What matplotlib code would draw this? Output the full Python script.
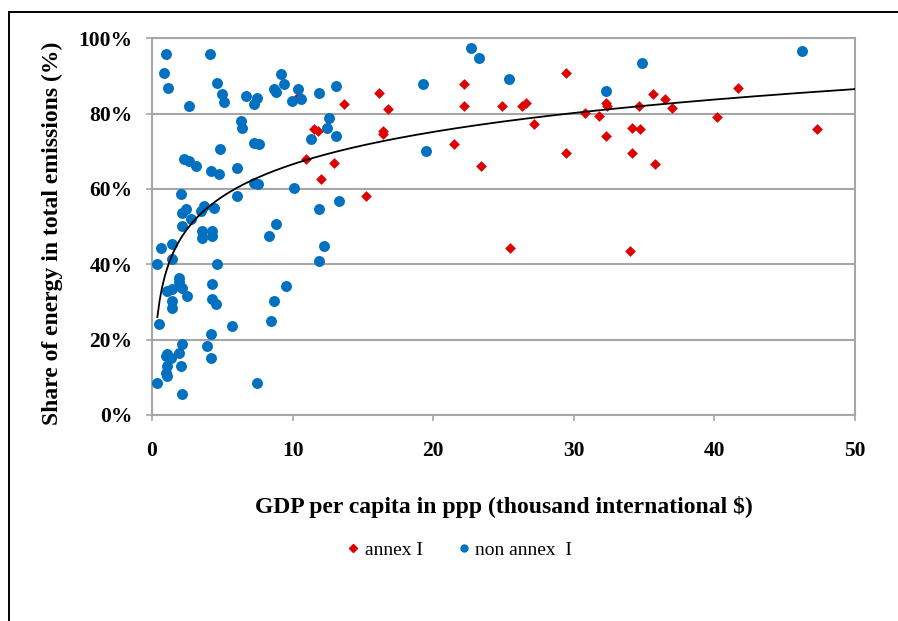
import numpy as np
import matplotlib
matplotlib.use("Agg")
import matplotlib.pyplot as plt
from matplotlib.patches import Rectangle
from matplotlib.lines import Line2D
from matplotlib.ticker import PercentFormatter

# ---- data ----
# GDP per capita (thousand intl $) and share of energy in emissions (%)
annex_gdp = [10.44, 13.68, 16.17, 16.77, 11.55, 11.79, 16.42, 16.42, 10.94, 12.95,
             12.00, 15.23, 22.18, 22.18, 24.90, 26.33, 26.57, 29.42, 27.17, 21.47,
             23.37, 29.42, 30.83, 31.78, 32.26, 32.37, 32.26, 34.11, 34.70, 34.11,
             34.63, 35.64, 36.48, 37.00, 40.16, 41.70, 47.27, 35.77, 25.44, 34.00]
annex_share = [84.7, 82.5, 85.6, 81.2, 75.8, 75.4, 75.4, 74.5, 67.9, 67.0,
               62.6, 58.1, 87.8, 82.0, 82.0, 82.0, 82.9, 90.9, 77.2, 71.9,
               66.1, 69.6, 80.2, 79.4, 82.9, 82.0, 74.1, 76.3, 75.8, 69.6,
               82.0, 85.1, 83.8, 81.6, 79.2, 86.9, 75.8, 66.6, 44.4, 43.5]

non_annex_gdp = [1.02, 4.16, 0.83, 1.12, 2.65, 4.65, 5.00, 5.12, 6.67, 7.28,
                 7.49, 8.70, 8.82, 9.16, 9.40, 9.99, 10.39, 6.31, 6.43, 7.28,
                 7.61, 4.87, 2.28, 2.64, 3.11, 4.18, 4.77, 6.07, 7.28, 7.52,
                 10.09, 2.04, 6.07, 2.40, 2.16, 3.70, 3.47, 4.41, 2.75, 2.16,
                 8.80, 3.59, 3.59, 4.30, 4.30, 8.32, 0.62, 1.45, 1.45, 0.38,
                 4.65, 1.92, 1.92, 2.16, 1.09, 1.45, 2.52, 1.45, 1.45, 4.30,
                 4.30, 4.53, 9.52, 8.68, 8.45, 5.72, 0.50, 4.17, 2.16, 3.94,
                 1.92, 4.17, 1.09, 0.97, 1.33, 1.09, 2.04, 0.97, 1.09, 0.38, 7.47, 2.16,
                 10.58, 11.90, 13.08, 19.24, 12.60, 12.48, 11.29, 13.07, 19.49,
                 13.33, 11.90, 12.26, 11.90, 22.66, 23.28, 25.38, 32.26, 34.82, 46.21]
non_annex_share = [95.8, 95.8, 90.9, 86.9, 82.0, 88.2, 85.2, 83.0, 84.7, 82.5,
                   84.2, 86.5, 85.8, 90.4, 87.9, 83.4, 86.5, 78.0, 76.3, 72.3,
                   71.9, 70.5, 67.9, 67.5, 66.1, 64.8, 63.9, 65.6, 61.7, 61.2,
                   60.3, 58.6, 58.1, 54.6, 53.7, 55.5, 54.2, 55.0, 52.0, 50.2,
                   50.6, 48.8, 47.1, 48.8, 47.5, 47.5, 44.4, 45.3, 41.3, 40.0,
                   40.0, 36.4, 35.3, 33.8, 32.9, 33.4, 31.6, 30.3, 28.5, 34.7,
                   30.7, 29.4, 34.2, 30.3, 25.0, 23.6, 24.1, 21.4, 18.8, 18.3,
                   16.5, 15.2, 16.1, 15.7, 15.2, 13.0, 13.0, 11.2, 10.4, 8.4, 8.4, 5.5,
                   83.8, 85.6, 87.3, 87.8, 78.9, 76.3, 73.2, 74.1, 70.1,
                   56.8, 54.6, 44.9, 40.9, 97.5, 94.7, 89.1, 86.0, 93.5, 96.6]

x_ticks = [0, 10, 20, 30, 40, 50]
y_ticks = [0, 20, 40, 60, 80, 100]

# logarithmic trend line (as in the chart)
trend_a, trend_b = 12.4, 38.0

# ---- figure ----
plt.rcParams['font.family'] = ['Liberation Serif', 'DejaVu Serif']
fig = plt.figure(figsize=(8.98, 6.21), dpi=100)
ax = fig.add_axes([152 / 898, 1 - 415 / 621, (855 - 152) / 898, (415 - 38.3) / 621])

grid_col = '#a6a6a6'
ax.set_axisbelow(True)
ax.yaxis.grid(True, color=grid_col, linewidth=1.5)

ax.scatter(annex_gdp, annex_share, marker='D', s=30, color='#e00000',
           linewidths=0, zorder=3)
ax.scatter(non_annex_gdp, non_annex_share, marker='o', s=62, color='#0070c0',
           linewidths=0, zorder=4)

all_x = np.array(annex_gdp + non_annex_gdp)
xt = np.linspace(all_x.min(), 50, 300)
ax.plot(xt, trend_a * np.log(xt) + trend_b, color='black', linewidth=1.3, zorder=5)

ax.set_xlim(0, 50)
ax.set_ylim(0, 100)
ax.set_xticks(x_ticks)
ax.set_yticks(y_ticks)
ax.yaxis.set_major_formatter(PercentFormatter(decimals=0))

for s in ax.spines.values():
    s.set_color(grid_col)
    s.set_linewidth(1.5)

ax.tick_params(axis='both', colors=grid_col, labelcolor='black', length=4, width=1.2)
ax.tick_params(axis='x', pad=15)
ax.tick_params(axis='y', pad=10)
for lab in ax.get_xticklabels() + ax.get_yticklabels():
    lab.set_fontweight('bold')
    lab.set_fontsize(15.5)

ax.set_xlabel("GDP per capita in ppp (thousand international $)", fontsize=17,
              fontweight='bold', labelpad=25)
ax.set_ylabel("Share of energy in total emissions (%)", fontsize=17,
              fontweight='bold')
ax.yaxis.set_label_coords(-0.127, 0.483)

handles = [Line2D([], [], marker='D', linestyle='', color='#e00000', markersize=4.5),
           Line2D([], [], marker='o', linestyle='', color='#0070c0', markersize=5)]
fig.legend(handles, ['annex I', 'non annex  I'], loc='center',
           bbox_to_anchor=(458 / 898, 1 - 550 / 621), ncol=2, frameon=False,
           fontsize=14, handletextpad=0.1, columnspacing=1.6, handlelength=1.0)

# outer black frame
fig.patches.append(Rectangle((9 / 898, -0.1), 1.2, 1.1 - 12 / 621,
                             transform=fig.transFigure, fill=False,
                             edgecolor='black', linewidth=1.4))

fig.savefig("out.png", dpi=100)
